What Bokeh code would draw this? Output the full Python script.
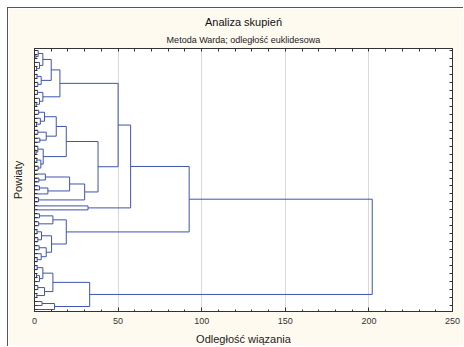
from bokeh.plotting import figure
from bokeh.models import Range1d, LinearAxis, FixedTicker, Title, ColumnDataSource, Grid
from bokeh.embed import file_html
from bokeh.resources import INLINE

# ---- data: Ward dendrogram of 66 powiaty (leaves ordered top -> bottom) ----
n_leaves = 66
# each merge: leaves lo..split form the first child, split+1..hi the second; node_h = linkage distance
node_lo    = [0, 0, 0, 39, 0, 0, 0, 0, 0, 1, 3, 4, 6, 6, 8, 10, 10, 12, 13,
              15, 15, 15, 15, 15, 17, 18, 20, 20, 22, 24, 24, 25, 27, 27, 29,
              31, 31, 31, 32, 34, 34, 37,
              41, 41, 41, 43, 45, 45, 45, 47, 49, 49, 51, 52,
              54, 54, 54, 54, 56, 56, 59, 59, 61, 63, 63]
node_split = [53, 40, 38, 39, 14, 9, 5, 2, 0, 1, 3, 4, 7, 6, 8, 11, 10, 12, 13,
              30, 23, 19, 16, 15, 17, 18, 21, 20, 22, 26, 24, 25, 28, 27, 29,
              36, 33, 31, 32, 35, 34, 37,
              44, 42, 41, 43, 48, 46, 45, 47, 50, 49, 51, 52,
              62, 58, 55, 54, 57, 56, 60, 59, 61, 64, 63]
node_hi    = [65, 53, 40, 40, 38, 14, 9, 5, 2, 2, 5, 5, 9, 7, 9, 14, 11, 14, 14,
              38, 30, 23, 19, 16, 19, 19, 23, 21, 23, 30, 26, 26, 30, 28, 30,
              38, 36, 33, 33, 36, 35, 38,
              53, 44, 42, 44, 53, 48, 46, 48, 53, 50, 53, 53,
              65, 62, 58, 55, 58, 57, 62, 60, 62, 65, 64]
node_h     = [202.0, 92.5, 57.5, 32.0, 50.0, 15.2, 10.0, 5.0, 2.2, 0.8, 3.0, 1.2, 4.0, 1.5, 2.0, 5.0, 1.8, 3.0, 1.0,
              38.0, 19.0, 13.0, 6.0, 2.5, 3.5, 1.2, 7.0, 2.0, 3.2, 5.2, 2.0, 0.9, 3.8, 1.4, 2.2,
              30.0, 21.0, 6.5, 2.6, 8.0, 3.0, 2.4,
              19.0, 11.0, 3.0, 2.5, 10.2, 4.2, 1.5, 2.0, 7.0, 2.8, 4.0, 1.6,
              33.0, 11.0, 5.0, 1.6, 3.0, 1.2, 6.0, 2.0, 1.4, 12.0, 4.5]

x_ticks = [0, 50, 100, 150, 200, 250]
x_minor_ticks = list(range(0, 251, 10))

title_main = "Analiza skupień"
title_sub = "Metoda Warda; odległość euklidesowa"
x_label = "Odległość wiązania"
y_label = "Powiaty"

# ---- build dendrogram geometry from the merge table ----
nodes = {(lo, hi): (sp, h) for lo, sp, hi, h in zip(node_lo, node_split, node_hi, node_h)}
leaf_pos = [i + 1 for i in range(n_leaves)]


def pos_height(lo, hi):
    if lo == hi:
        return leaf_pos[lo], 0.0
    sp, h = nodes[(lo, hi)]
    yl, _ = pos_height(lo, sp)
    yr, _ = pos_height(sp + 1, hi)
    return (yl + yr) / 2.0, h


xs, ys = [], []
for lo, sp, hi, h in zip(node_lo, node_split, node_hi, node_h):
    yl, hl = pos_height(lo, sp)
    yr, hr = pos_height(sp + 1, hi)
    xs.append([hl, h, h, hr])
    ys.append([yl, yl, yr, yr])

src = ColumnDataSource(dict(xs=xs, ys=ys))

FONT = "Liberation Sans"
BG = "#fffaf0"
AX = "#333333"

p = figure(width=456, height=339, output_backend="svg", toolbar_location=None,
           x_range=Range1d(x_ticks[0], x_ticks[-1]), y_range=Range1d(n_leaves + 0.5, 0.5),
           x_axis_type=None, y_axis_type=None,
           min_border_left=24, min_border_right=12, min_border_top=40, min_border_bottom=36,
           background_fill_color="white", border_fill_color=BG,
           outline_line_color=AX, outline_line_width=1, title=None)
p.styles = {"margin-left": "7px", "margin-top": "7px",
            "border-top": "1px solid #555555", "border-left": "1px solid #555555"}

p.multi_line("xs", "ys", source=src, line_color="#3e54ad", line_width=1)

# bottom axis with labels
xaxis = LinearAxis(ticker=FixedTicker(ticks=x_ticks, minor_ticks=x_minor_ticks),
                   axis_label=x_label, axis_label_text_font=FONT, axis_label_text_font_size="11px",
                   axis_label_text_font_style="normal", axis_label_text_color="#222222",
                   axis_label_standoff=6,
                   major_label_text_font=FONT, major_label_text_font_size="9px",
                   major_label_text_color="#333333", major_label_standoff=6,
                   major_tick_in=4, major_tick_out=0, minor_tick_in=2, minor_tick_out=0,
                   axis_line_color=AX, major_tick_line_color=AX, minor_tick_line_color=AX)
p.add_layout(xaxis, "below")

# top axis: tick marks only
top_ax = LinearAxis(ticker=FixedTicker(ticks=[], minor_ticks=x_minor_ticks),
                    minor_tick_in=3, minor_tick_out=0, axis_line_color=AX, minor_tick_line_color=AX)
p.add_layout(top_ax, "above")

# left axis: leaf ticks and title
yaxis = LinearAxis(ticker=FixedTicker(ticks=[], minor_ticks=leaf_pos),
                   axis_label=y_label, axis_label_text_font=FONT, axis_label_text_font_size="11px",
                   axis_label_text_font_style="normal", axis_label_text_color="#222222",
                   axis_label_standoff=11,
                   minor_tick_in=3, minor_tick_out=0, axis_line_color=AX, minor_tick_line_color=AX)
p.add_layout(yaxis, "left")

# right axis: tick marks only
right_ax = LinearAxis(ticker=FixedTicker(ticks=[], minor_ticks=leaf_pos[::2]),
                      minor_tick_in=3, minor_tick_out=0, axis_line_color=AX, minor_tick_line_color=AX)
p.add_layout(right_ax, "right")

p.add_layout(Grid(dimension=0, ticker=FixedTicker(ticks=x_ticks[1:-1]), grid_line_color="#d9d9d9"))

p.add_layout(Title(text=title_sub, align="center", offset=-5, text_font=FONT, text_font_size="9px",
                   text_font_style="normal", text_color="#222222", standoff=8), "above")
p.add_layout(Title(text=title_main, align="center", offset=-5, text_font=FONT, text_font_size="11px",
                   text_font_style="normal", text_color="#111111", standoff=2), "above")

open("out.html", "w").write(file_html(p, INLINE))
